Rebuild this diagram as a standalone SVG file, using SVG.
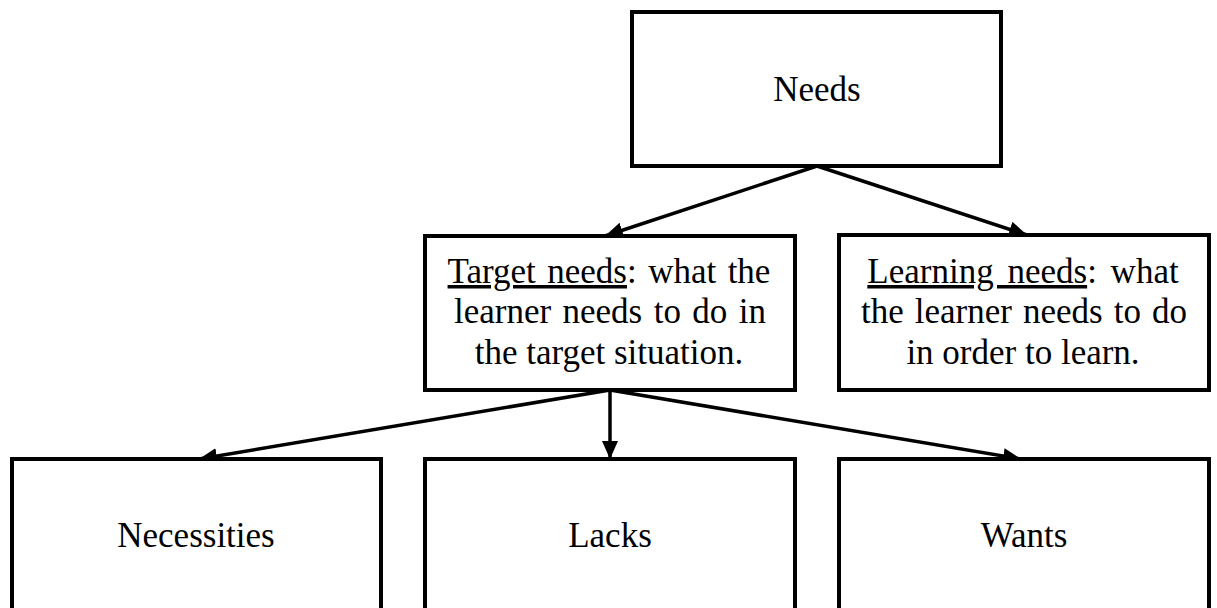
<svg xmlns="http://www.w3.org/2000/svg" width="1217" height="608" viewBox="0 0 1217 608">
  <style>
    .box { fill: #ffffff; stroke: #000000; stroke-width: 4; }
    .lbl { font-family: "Liberation Serif", "Times New Roman", serif; font-size: 35px; fill: #000000; text-anchor: middle; }
    .u { text-decoration: underline; }
    .conn { stroke: #000000; stroke-width: 3.5; fill: none; marker-end: url(#arrow); }
  </style>
  <defs>
    <marker id="arrow" markerUnits="userSpaceOnUse" markerWidth="20" markerHeight="16" refX="18" refY="8" orient="auto">
      <path d="M0,0 L18,8 L0,16 Z" fill="#000000"/>
    </marker>
  </defs>
  <rect width="1217" height="608" fill="#ffffff"/>

  <g id="connectors">
    <line class="conn" x1="817" y1="166" x2="605" y2="236"/>
    <line class="conn" x1="817" y1="166" x2="1027" y2="235"/>
    <line class="conn" x1="610" y1="390" x2="199" y2="459"/>
    <line class="conn" x1="610" y1="390" x2="610" y2="459"/>
    <line class="conn" x1="610" y1="390" x2="1021" y2="459"/>
  </g>

  <g id="node-needs">
    <rect class="box" x="632" y="12" width="369" height="154"/>
    <text class="lbl" x="817" y="101">Needs</text>
  </g>

  <g id="node-target-needs">
    <rect class="box" x="425" y="236" width="370" height="154"/>
    <text class="lbl" x="609" y="283" word-spacing="2.7"><tspan class="u">Target needs</tspan>: what the</text>
    <text class="lbl" x="610" y="323" word-spacing="2.7">learner needs to do in</text>
    <text class="lbl" x="609" y="364">the target situation.</text>
  </g>

  <g id="node-learning-needs">
    <rect class="box" x="839" y="235" width="370" height="155"/>
    <text class="lbl" x="1023" y="283" word-spacing="5"><tspan class="u">Learning needs</tspan>: what</text>
    <text class="lbl" x="1024" y="323" word-spacing="2.3">the learner needs to do</text>
    <text class="lbl" x="1023" y="364">in order to learn.</text>
  </g>

  <g id="node-necessities">
    <rect class="box" x="12" y="459" width="369" height="170"/>
    <text class="lbl" x="196" y="547">Necessities</text>
  </g>

  <g id="node-lacks">
    <rect class="box" x="425" y="459" width="370" height="170"/>
    <text class="lbl" x="610" y="547">Lacks</text>
  </g>

  <g id="node-wants">
    <rect class="box" x="839" y="459" width="370" height="170"/>
    <text class="lbl" x="1024" y="547">Wants</text>
  </g>
</svg>
